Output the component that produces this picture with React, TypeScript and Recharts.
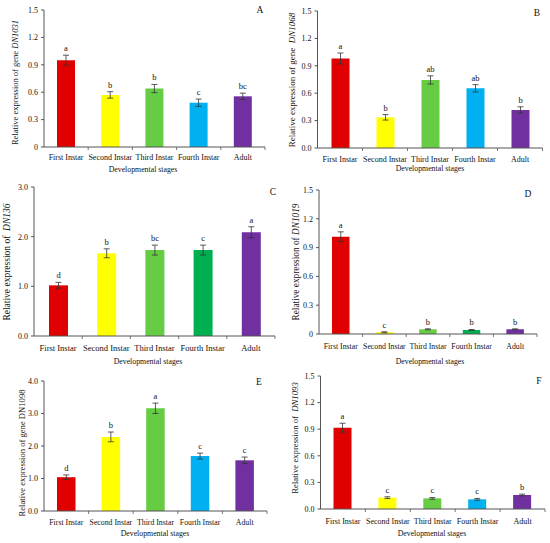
import React from 'react';
import { BarChart, Bar, XAxis, YAxis, ErrorBar, LabelList, Cell } from 'recharts';

const stages = ['First Instar', 'Second Instar', 'Third Instar', 'Fourth Instar', 'Adult'];

const RED = '#E00000';
const YELLOW = '#FFFF00';
const GREEN = '#66CC44';
const DARK_GREEN = '#00B050';
const BLUE = '#00B0F0';
const PURPLE = '#7030A0';

const valuesA = [0.95, 0.57, 0.64, 0.485, 0.555];
const errorsA = [0.055, 0.035, 0.045, 0.04, 0.035];
const lettersA = ['a', 'b', 'b', 'c', 'bc'];

const valuesB = [0.98, 0.336, 0.745, 0.654, 0.416];
const errorsB = [0.06, 0.03, 0.045, 0.04, 0.035];
const lettersB = ['a', 'b', 'ab', 'ab', 'b'];

const valuesC = [1.02, 1.665, 1.73, 1.73, 2.09];
const errorsC = [0.06, 0.09, 0.1, 0.1, 0.11];
const lettersC = ['d', 'b', 'bc', 'c', 'a'];

const valuesD = [1.014, 0.018, 0.049, 0.042, 0.049];
const errorsD = [0.05, 0.005, 0.005, 0.005, 0.005];
const lettersD = ['a', 'c', 'b', 'b', 'b'];

const valuesE = [1.04, 2.28, 3.16, 1.69, 1.56];
const errorsE = [0.07, 0.15, 0.16, 0.09, 0.1];
const lettersE = ['d', 'b', 'a', 'c', 'c'];

const valuesF = [0.917, 0.128, 0.12, 0.109, 0.158];
const errorsF = [0.05, 0.01, 0.01, 0.01, 0.01];
const lettersF = ['a', 'c', 'c', 'c', 'b'];

const ticks15 = [0, 0.3, 0.6, 0.9, 1.2, 1.5];
const ticks3 = [0, 1, 2, 3];
const ticks4 = [0, 1, 2, 3, 4];

const FONT = '"Liberation Serif", "Times New Roman", serif';
const AXIS = '#555';
const INK = '#111';

function buildRows(values: number[], errors: number[], letters: string[], colors: string[]) {
  return stages.map((stage, i) => ({
    stage,
    value: values[i],
    err: errors[i],
    letter: letters[i],
    color: colors[i],
  }));
}

const panels = [
  {
    id: 'A', rows: buildRows(valuesA, errorsA, lettersA, [RED, YELLOW, GREEN, BLUE, PURPLE]),
    ticks: ticks15, max: 1.5, zero: '0', prefix: 'Relative expression of gene ', gene: 'DN1031', italic: true,
    l: 44, r: 265, t: 10, b: 147, yl: [15, 82.5], yFs: 8.5, letterPos: [260, 13],
    dev: [143, 172], tickBase: 160, tickFs: 8, barSize: 18,
  },
  {
    id: 'B', rows: buildRows(valuesB, errorsB, lettersB, [RED, YELLOW, GREEN, BLUE, PURPLE]),
    ticks: ticks15, max: 1.5, zero: '0.0', prefix: 'Relative expression of gene  ', gene: 'DN1068', italic: true,
    l: 317.5, r: 542.5, t: 11, b: 148, yl: [291.5, 80], yFs: 9, letterPos: [537, 16],
    dev: [430, 171], tickBase: 162, tickFs: 8, barSize: 18,
  },
  {
    id: 'C', rows: buildRows(valuesC, errorsC, lettersC, [RED, YELLOW, GREEN, DARK_GREEN, PURPLE]),
    ticks: ticks3, max: 3, zero: '0.0', prefix: 'Relative expression of  ', gene: 'DN136', italic: true,
    l: 34, r: 275, t: 187, b: 336, yl: [7, 262], yFs: 9.5, letterPos: [273, 195],
    dev: [148, 364], tickBase: 351, tickFs: 8.5, barSize: 19,
  },
  {
    id: 'D', rows: buildRows(valuesD, errorsD, lettersD, [RED, YELLOW, GREEN, DARK_GREEN, PURPLE]),
    ticks: ticks15, max: 1.5, zero: '0', prefix: 'Relative expression of ', gene: 'DN1019', italic: true,
    l: 319, r: 537, t: 190, b: 334, yl: [296, 262], yFs: 9.3, letterPos: [528, 197],
    dev: [430, 364], tickBase: 349, tickFs: 7.8, barSize: 17.5,
  },
  {
    id: 'E', rows: buildRows(valuesE, errorsE, lettersE, [RED, YELLOW, GREEN, BLUE, PURPLE]),
    ticks: ticks4, max: 4, zero: '0.0', prefix: 'Relative expression of gene ', gene: 'DN1098', italic: false,
    l: 44, r: 267, t: 381, b: 511, yl: [22, 453], yFs: 8.6, letterPos: [259, 385],
    dev: [155, 536], tickBase: 525, tickFs: 7.8, barSize: 18.5,
  },
  {
    id: 'F', rows: buildRows(valuesF, errorsF, lettersF, [RED, YELLOW, GREEN, BLUE, PURPLE]),
    ticks: ticks15, max: 1.5, zero: '0.0', prefix: 'Relative expression of  ', gene: 'DN1093', italic: true,
    l: 320.5, r: 545, t: 376, b: 509, yl: [295, 438], yFs: 8.7, letterPos: [539, 384],
    dev: [432, 536], tickBase: 524, tickFs: 8, barSize: 18,
  },
];

const W = 550;
const H = 543;
const Y_AXIS_W = 30;
const X_AXIS_H = 30;

type Panel = typeof panels[number];

function Panel({ p }: { p: Panel }) {
  const bw = (p.r - p.l) / stages.length;
  const pxPerUnit = (p.b - p.t) / p.max;

  const renderTick = (props: any) => {
    const { x, payload } = props;
    return (
      <g>
        <line x1={x + bw / 2} x2={x + bw / 2} y1={p.b} y2={p.b + 3} stroke={AXIS} strokeWidth={0.8} />
        <text x={x} y={p.tickBase} textAnchor="middle" fontSize={p.tickFs} fontFamily={FONT} style={{ fill: INK }}>
          {payload.value}
        </text>
      </g>
    );
  };

  const renderLetter = (props: any) => {
    const { x, y, width, value, index } = props;
    const errPx = p.rows[index].err * pxPerUnit;
    return (
      <text
        x={Number(x) + Number(width) / 2}
        y={Number(y) - errPx - 4}
        textAnchor="middle"
        fontSize={8.5}
        fontFamily={FONT}
        style={{ fill: INK, stroke: 'none' }}
      >
        {value}
      </text>
    );
  };

  const yLabel = () => (
    <g>
      <text
        transform={`translate(${p.yl[0]},${p.yl[1]}) rotate(-90)`}
        textAnchor="middle"
        dominantBaseline="central"
        fontSize={p.yFs}
        fontFamily={FONT}
        style={{ whiteSpace: 'pre', fill: INK }}
      >
        {p.prefix}
        <tspan fontStyle={p.italic ? 'italic' : 'normal'}>{p.gene}</tspan>
      </text>
      <text x={p.letterPos[0]} y={p.letterPos[1]} textAnchor="middle" fontSize={9.5} fontFamily={FONT} style={{ fill: INK }}>
        {p.id}
      </text>
    </g>
  );

  const xLabel = () => (
    <text x={p.dev[0]} y={p.dev[1]} textAnchor="middle" fontSize={7.8} fontFamily={FONT} style={{ fill: INK }}>
      Developmental stages
    </text>
  );

  return (
    <div style={{ position: 'absolute', left: 0, top: 0 }}>
      <BarChart
        width={W}
        height={H}
        data={p.rows}
        margin={{ top: p.t, right: W - p.r, left: p.l - Y_AXIS_W, bottom: H - p.b - X_AXIS_H }}
        barSize={p.barSize}
      >
        <XAxis
          dataKey="stage"
          height={X_AXIS_H}
          stroke={AXIS}
          tickLine={false}
          interval={0}
          tick={renderTick}
          label={xLabel}
        />
        <YAxis
          width={Y_AXIS_W}
          domain={[0, p.max]}
          ticks={p.ticks}
          stroke={AXIS}
          tickSize={3}
          tickMargin={3}
          tick={{ fontSize: 8, fontFamily: FONT, fill: INK }}
          tickFormatter={(v: number) => (v === 0 ? p.zero : v.toFixed(1))}
          label={yLabel}
        />
        <Bar dataKey="value" isAnimationActive={false}>
          {p.rows.map((row) => (
            <Cell key={row.stage} fill={row.color} />
          ))}
          <ErrorBar dataKey="err" width={3} stroke="#333" strokeWidth={0.8} isAnimationActive={false} />
          <LabelList dataKey="letter" content={renderLetter} />
        </Bar>
      </BarChart>
    </div>
  );
}

export default function App() {
  return (
    <div style={{ position: 'absolute', left: 0, top: 0, width: W, height: H, background: '#fff' }}>
      {panels.map((p) => (
        <Panel key={p.id} p={p} />
      ))}
    </div>
  );
}
